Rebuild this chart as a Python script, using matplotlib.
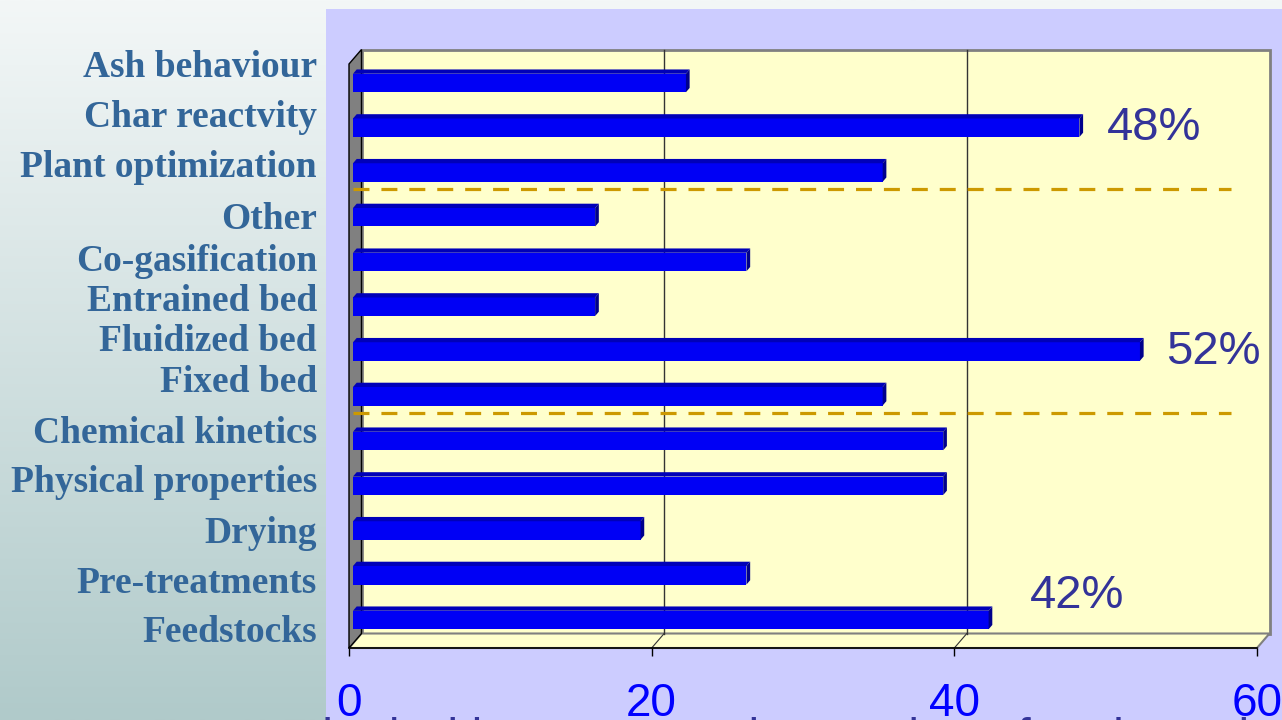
import numpy as np
import matplotlib
matplotlib.use("Agg")
import matplotlib.pyplot as plt
from matplotlib.patches import Rectangle, Polygon

# ---- data ---------------------------------------------------------------
categories = ["Feedstocks", "Pre-treatments", "Drying", "Physical properties",
              "Chemical kinetics", "Fixed bed", "Fluidized bed", "Entrained bed",
              "Co-gasification", "Other", "Plant optimization", "Char reactvity",
              "Ash behaviour"]
values = [42, 26, 19, 39, 39, 35, 52, 16, 26, 16, 35, 48, 22]
group_breaks = [4.5, 9.5]
group_shares = {"Feedstocks": "42%", "Fluidized bed": "52%", "Char reactvity": "48%"}
xticks = [0, 20, 40, 60]

# ---- layout / style -----------------------------------------------------
W, H, DPI = 1282, 720, 100
plt.rcParams["lines.scale_dashes"] = False
fig = plt.figure(figsize=(W / DPI, H / DPI), dpi=DPI)

# slide background: soft vertical gradient with a lavender chart panel
bg = fig.add_axes([0, 0, 1, 1], zorder=-10)
bg.set_axis_off()
top_c = np.array([243, 247, 247]) / 255
bot_c = np.array([176, 202, 202]) / 255
t = np.linspace(0, 1, 256)[:, None, None]
bg.imshow(top_c + (bot_c - top_c) * t, aspect="auto", extent=[0, 1, 0, 1],
          origin="upper")
bg.set_xlim(0, 1)
bg.set_ylim(0, 1)
bg.add_patch(Rectangle((326 / W, 0), 1 - 326 / W, (H - 9) / H,
                       facecolor="#CCCCFF", edgecolor="none"))

# main chart axes = front plane of the 3-D box
ax_l, ax_b, ax_w, ax_h = 349, 72, 908, 584
ax = fig.add_axes([ax_l / W, ax_b / H, ax_w / W, ax_h / H])
ax.set_facecolor("none")
y0, y1 = -0.525, len(categories) - 1 + 0.525
ax.set_xlim(0, 60)
ax.set_ylim(y0, y1)

ux = ax_w / 60.0
uy = ax_h / (y1 - y0)


def px(dx, dy):
    return dx / ux, dy / uy


Dx, Dy = px(12.5, 14.5)       # full depth of the box
Fx, Fy = px(4.0, 4.5)         # plane of the bars' front faces
bx, by = px(3.7, 4.3)         # bar depth

wall_c = "#FFFFCC"
side_c = "#808080"

# back wall
ax.add_patch(Rectangle((Dx, y0 + Dy), 60, y1 - y0, facecolor=wall_c,
                       edgecolor=side_c, lw=2, zorder=1, clip_on=False))
# floor
ax.add_patch(Polygon([(0, y0), (60, y0), (60 + Dx, y0 + Dy), (Dx, y0 + Dy)],
                     closed=True, facecolor=wall_c, edgecolor=side_c, lw=1.5,
                     zorder=1.1, clip_on=False))
# left side wall
ax.add_patch(Polygon([(0, y0), (Dx, y0 + Dy), (Dx, y1 + Dy), (0, y1)],
                     closed=True, facecolor=side_c, edgecolor="black", lw=1,
                     zorder=1.2, clip_on=False))

# gridlines on back wall and floor
for xv in xticks[1:-1]:
    ax.plot([xv + Dx, xv + Dx], [y0 + Dy, y1 + Dy], color="#333333", lw=1,
            zorder=1.3, clip_on=False)
    ax.plot([xv, xv + Dx], [y0, y0 + Dy], color="#333333", lw=0.8,
            zorder=1.3, clip_on=False)

# group separators
for gb in group_breaks:
    yy = gb + px(0, 10)[1]
    ax.plot([Fx, 58.3], [yy, yy], color="#CC9900", lw=2.3,
            dashes=(11.5, 8.6), zorder=2, clip_on=False)

# bars: front face, top face and end face
ypos = np.arange(len(categories))
bh = px(0, 18.5)[1]
ax.barh(ypos + Fy, values, height=bh, left=Fx, color="#0000F5",
        edgecolor="none", zorder=3, clip_on=False)
for yi, v in zip(ypos, values):
    yt = yi + Fy + bh / 2
    yb = yi + Fy - bh / 2
    xe = v + Fx
    ax.add_patch(Polygon([(Fx, yt), (xe, yt), (xe + bx, yt + by), (Fx + bx, yt + by)],
                         closed=True, facecolor="#0000B8", edgecolor="none",
                         zorder=3.1, clip_on=False))
    ax.add_patch(Polygon([(xe, yb), (xe, yt), (xe + bx, yt + by), (xe + bx, yb + by)],
                         closed=True, facecolor="#00008C", edgecolor="none",
                         zorder=3.1, clip_on=False))

# group share callouts
share_offsets = {"Feedstocks": (38, 24), "Fluidized bed": (22, 0),
                 "Char reactvity": (24, 0)}
for name, txt in group_shares.items():
    i = categories.index(name)
    ox, oy = share_offsets[name]
    ax.annotate(txt, xy=(values[i] + Fx + bx, i + Fy),
                xytext=(ox * 0.72, oy * 0.72), textcoords="offset points",
                ha="left", va="center", fontsize=34, color="#333399",
                family="Liberation Sans", zorder=5, annotation_clip=False)

# front axis with ticks
for s in ("left", "right", "top"):
    ax.spines[s].set_visible(False)
ax.spines["bottom"].set_color("black")
ax.spines["bottom"].set_linewidth(1.2)
ax.spines["bottom"].set_zorder(4)
ax.set_yticks([])
ax.set_xticks(xticks)
ax.set_xticklabels([str(v) for v in xticks], family="Liberation Sans",
                   fontsize=33, color="#0000FF")
ax.tick_params(axis="x", direction="out", length=5.8, width=1, color="black",
               pad=18.7)

# category labels
label_baselines = [642, 593, 543, 492, 443, 392, 351, 311, 271, 229, 177, 127, 77]
for name, yb in zip(categories, label_baselines):
    fig.text(317 / W, 1 - yb / H, name, ha="right", va="baseline",
             family="Liberation Serif", weight="bold", fontsize=27,
             color="#336699")

# caption line running off the bottom edge
fig.text(253 / W, 1 - 752 / H,
         "ranked with respect to the number of projects that",
         ha="left", va="baseline", family="Liberation Sans", fontsize=34.5,
         color="#333399", zorder=-1)

fig.savefig("out.png", dpi=DPI)
